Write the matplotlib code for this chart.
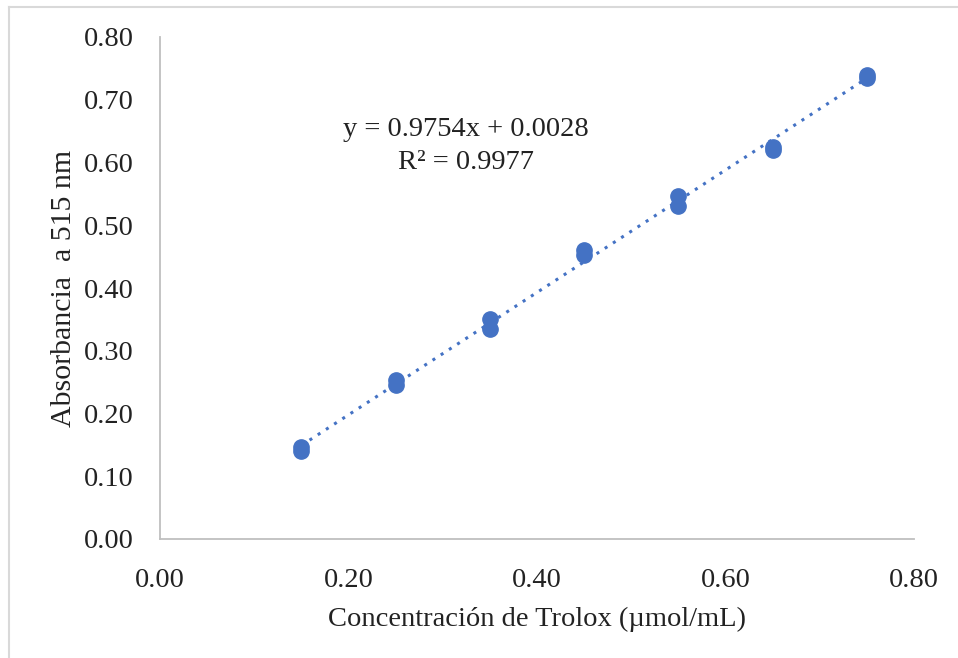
import matplotlib
matplotlib.use('agg')
import matplotlib.pyplot as plt
from matplotlib.lines import Line2D
import numpy as np

# data (two replicates per concentration)
conc = [0.15, 0.15, 0.25, 0.25, 0.35, 0.35, 0.45, 0.45, 0.55, 0.55, 0.65, 0.65, 0.75, 0.75]
absorb = [0.141, 0.147, 0.245, 0.253, 0.334, 0.350, 0.452, 0.460, 0.531, 0.546, 0.620, 0.625, 0.735, 0.740]
slope = 0.9754
intercept = 0.0028
ticks = [0.0, 0.1, 0.2, 0.3, 0.4, 0.5, 0.6, 0.7, 0.8]
xticks = [0.0, 0.2, 0.4, 0.6, 0.8]

plt.rcParams['font.family'] = ['Liberation Serif', 'DejaVu Serif']
blue = '#4472C4'
fs = 20.5

fig = plt.figure(figsize=(9.58, 6.58), dpi=100)
ax = fig.add_axes([160/958, 1 - 539/658, (914 - 160)/958, (539 - 37)/658])

xfit = np.array([min(conc), max(conc)])
ax.plot(xfit, slope*xfit + intercept, ls=(0, (1, 2.2)), lw=2.2, color=blue, zorder=2)
ax.plot(conc, absorb, 'o', ms=11, color=blue, mec=blue, zorder=3)

ax.set_xlim(0, 0.8)
ax.set_ylim(0, 0.8)
ax.set_xticks(xticks)
ax.set_yticks(ticks)
ax.set_xticklabels(['%.2f' % t for t in xticks])
ax.set_yticklabels(['%.2f' % t for t in ticks])
ax.tick_params(length=0, labelsize=fs, pad=19, colors='#222222')
ax.tick_params(axis='x', pad=21)
for s in ['top', 'right']:
    ax.spines[s].set_visible(False)
for s in ['left', 'bottom']:
    ax.spines[s].set_color('#bfbfbf')
    ax.spines[s].set_linewidth(1.3)

ax.set_xlabel('Concentración de Trolox (µmol/mL)', fontsize=fs, labelpad=10, color='#222222')
ax.set_ylabel('Absorbancia  a 515 nm', fontsize=21.5, labelpad=5, color='#222222')

ax.text(0.325, 0.626, 'y = 0.9754x + 0.0028\nR² = 0.9977', ha='center', va='center',
        fontsize=fs, linespacing=1.4, color='#222222')

# frame lines of the cropped chart area
fig.add_artist(Line2D([9/958, 1], [1 - 7/658, 1 - 7/658], color='#d9d9d9', lw=1.5))
fig.add_artist(Line2D([9/958, 9/958], [0, 1 - 7/658], color='#d9d9d9', lw=1.5))

fig.savefig('out.png', dpi=100)
plt.close()
